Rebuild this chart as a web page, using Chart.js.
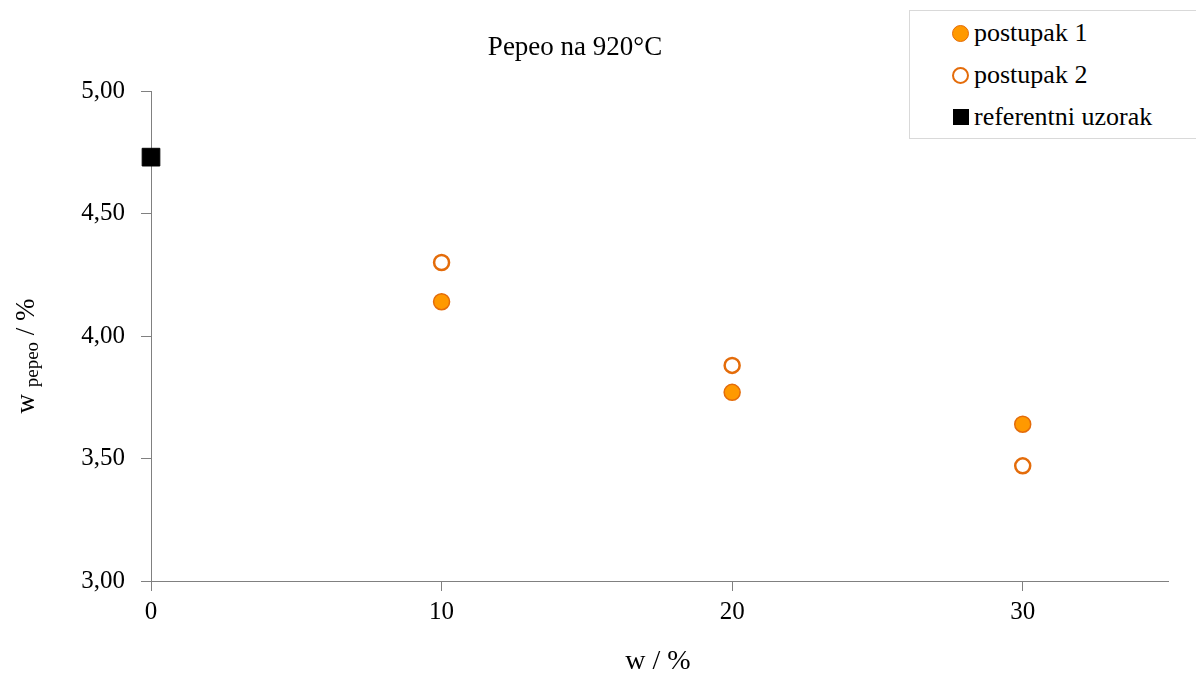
<!DOCTYPE html>
<html>
<head>
  <meta charset="utf-8">
  <title>Pepeo na 920°C</title>
  <script src="https://cdn.jsdelivr.net/npm/chart.js"></script>
  <style>
    body { margin: 0; background: #fff; font-family: "Liberation Serif", "Times New Roman", serif; }
    #wrap { position: relative; width: 1196px; height: 675px; }
    #legend { position: absolute; left: 909px; top: 10px; width: 286px; height: 127px;
      border: 1px solid #d9d9d9; border-right: none; background: #fff; box-sizing: content-box; }
    .item { position: absolute; left: 42px; height: 30px; display: flex; align-items: center;
      font-size: 26px; color: #000; white-space: nowrap; }
    .mk { display: inline-block; box-sizing: border-box; margin-right: 5px; }
    .p1 { width: 17px; height: 17px; border-radius: 50%; background: #ff9900; border: 1.5px solid #e46c0a; }
    .p2 { width: 17px; height: 17px; border-radius: 50%; background: #fff; border: 2.5px solid #e46c0a; }
    .ref { width: 16px; height: 16px; background: #000; margin-left: 1px; }
  </style>
</head>
<body>
  <div id="wrap">
    <canvas id="chart" width="1196" height="675"></canvas>
    <div id="legend">
      <div class="item" style="top:7px"><span class="mk p1"></span>postupak 1</div>
      <div class="item" style="top:49px"><span class="mk p2"></span>postupak 2</div>
      <div class="item" style="top:91px"><span class="mk ref"></span>referentni uzorak</div>
    </div>
  </div>

  <script>
    const xValues = [10, 20, 30];
    const postupak1 = [4.14, 3.77, 3.64];
    const postupak2 = [4.30, 3.88, 3.47];
    const refX = [0];
    const refY = [4.73];
    const xTicks = [0, 10, 20, 30];

    const toPoints = (xs, ys) => xs.map((x, i) => ({ x: x, y: ys[i] }));
    const serif = '"Liberation Serif", "Times New Roman", serif';

    // title and axis titles drawn on the canvas
    const labels = {
      id: 'labels',
      afterDraw(chart) {
        const ctx = chart.ctx;
        ctx.save();
        ctx.fillStyle = '#000';
        ctx.textBaseline = 'middle';
        ctx.textAlign = 'center';
        ctx.font = '27px ' + serif;
        ctx.fillText('Pepeo na 920°C', 575, 48);
        ctx.font = '28px ' + serif;
        ctx.fillText('w / %', 658, 662);

        // y title: w_pepeo / %
        ctx.translate(27, 356);
        ctx.rotate(-Math.PI / 2);
        ctx.textAlign = 'left';
        const big = '27px ' + serif, small = '19px ' + serif;
        ctx.font = big;
        const w1 = ctx.measureText('w ').width;
        ctx.font = small;
        const w2 = ctx.measureText('pepeo').width;
        ctx.font = big;
        const w3 = ctx.measureText(' / %').width;
        let x = -(w1 + w2 + w3) / 2;
        ctx.fillText('w ', x, 0);
        x += w1;
        ctx.font = small;
        ctx.fillText('pepeo', x, 6);
        x += w2;
        ctx.font = big;
        ctx.fillText(' / %', x, 0);
        ctx.restore();
      }
    };

    new Chart(document.getElementById('chart'), {
      type: 'scatter',
      data: {
        datasets: [
          {
            label: 'postupak 1',
            data: toPoints(xValues, postupak1),
            pointStyle: 'circle',
            pointRadius: 8,
            pointHoverRadius: 8,
            backgroundColor: '#ff9900',
            borderColor: '#e46c0a',
            borderWidth: 1.5,
            clip: false
          },
          {
            label: 'postupak 2',
            data: toPoints(xValues, postupak2),
            pointStyle: 'circle',
            pointRadius: 7.5,
            pointHoverRadius: 7.5,
            backgroundColor: '#ffffff',
            borderColor: '#e46c0a',
            borderWidth: 2.5,
            clip: false
          },
          {
            label: 'referentni uzorak',
            data: toPoints(refX, refY),
            pointStyle: 'rect',
            pointRadius: 12.5,
            pointHoverRadius: 12.5,
            backgroundColor: '#000000',
            borderColor: '#000000',
            borderWidth: 1,
            clip: false
          }
        ]
      },
      options: {
        responsive: false,
        animation: false,
        layout: { padding: { top: 91, right: 28, left: 0, bottom: 0 } },
        plugins: {
          legend: { display: false },
          tooltip: { enabled: false }
        },
        scales: {
          x: {
            type: 'linear',
            min: 0,
            max: 35,
            afterBuildTicks: s => { s.ticks = xTicks.map(v => ({ value: v })); },
            afterFit: s => { s.height = 94; },
            grid: { display: true, drawOnChartArea: false, drawTicks: true, tickLength: 10, color: '#808080' },
            border: { color: '#808080', width: 1 },
            ticks: { color: '#000', font: { family: serif, size: 25 }, padding: 6 }
          },
          y: {
            min: 3,
            max: 5,
            ticks: {
              stepSize: 0.5,
              color: '#000',
              padding: 16,
              font: { family: serif, size: 25 },
              callback: v => v.toFixed(2).replace('.', ',')
            },
            afterFit: s => { s.width = 151; },
            grid: { display: true, drawOnChartArea: false, drawTicks: true, tickLength: 10, color: '#808080' },
            border: { color: '#808080', width: 1 }
          }
        }
      },
      plugins: [labels]
    });
  </script>
</body>
</html>
